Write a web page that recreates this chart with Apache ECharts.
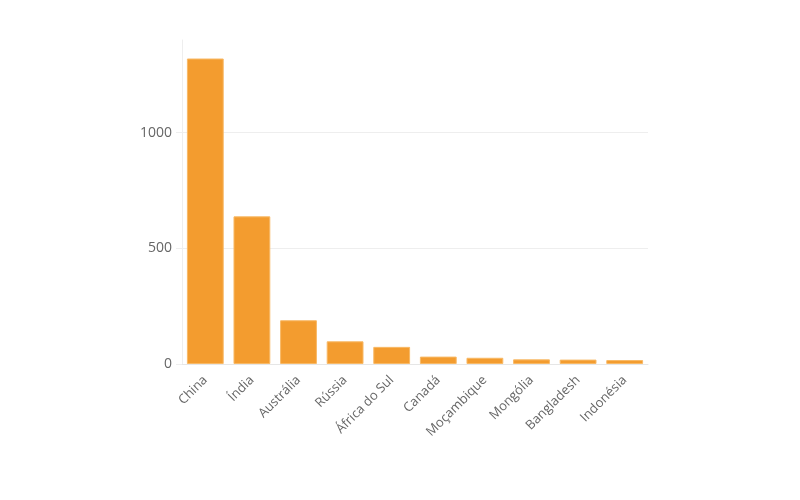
<!DOCTYPE html>
<html>
<head>
<meta charset="utf-8">
<script src="https://cdn.jsdelivr.net/npm/echarts@6/dist/echarts.min.js"></script>
<style>
  html, body { margin: 0; padding: 0; background: #fff; }
  #main { width: 800px; height: 500px; }
</style>
</head>
<body>
<div id="main"></div>
<script>
// dados do gráfico
var paises = ['China', 'Índia', 'Austrália', 'Rússia', 'África do Sul', 'Canadá', 'Moçambique', 'Mongólia', 'Bangladesh', 'Indonésia'];
var valores = [1320, 638, 189, 98, 74, 32, 27, 20, 19, 17];

var myChart = echarts.init(document.getElementById('main'));

var option = {
  animation: false,
  grid: {
    left: 182,
    right: 152,
    top: 40,
    bottom: 136
  },
  xAxis: {
    type: 'category',
    data: paises,
    axisLine: { lineStyle: { color: '#e6e6e6' } },
    axisTick: { alignWithLabel: true, length: 6, lineStyle: { color: '#e6e6e6' } },
    axisLabel: {
      rotate: 45,
      color: '#666',
      fontSize: 13,
      fontFamily: 'Open Sans',
      margin: 14
    }
  },
  yAxis: {
    type: 'value',
    min: 0,
    max: 1400,
    interval: 500,
    axisLine: { show: true, lineStyle: { color: '#eeeeee' } },
    axisTick: { show: true, length: 6, lineStyle: { color: '#eeeeee' } },
    axisLabel: {
      color: '#666',
      fontSize: 14,
      fontFamily: 'Open Sans',
      showMaxLabel: false,
      margin: 10,
      formatter: function (v) { return String(v); }
    },
    splitLine: {
      showMaxLine: false,
      lineStyle: { color: '#eeeeee' }
    }
  },
  series: [{
    type: 'bar',
    data: valores,
    barCategoryGap: '21%',
    itemStyle: {
      color: '#f39c2f',
      borderColor: '#f8b966',
      borderWidth: 1
    }
  }]
};

myChart.setOption(option);
</script>
</body>
</html>
